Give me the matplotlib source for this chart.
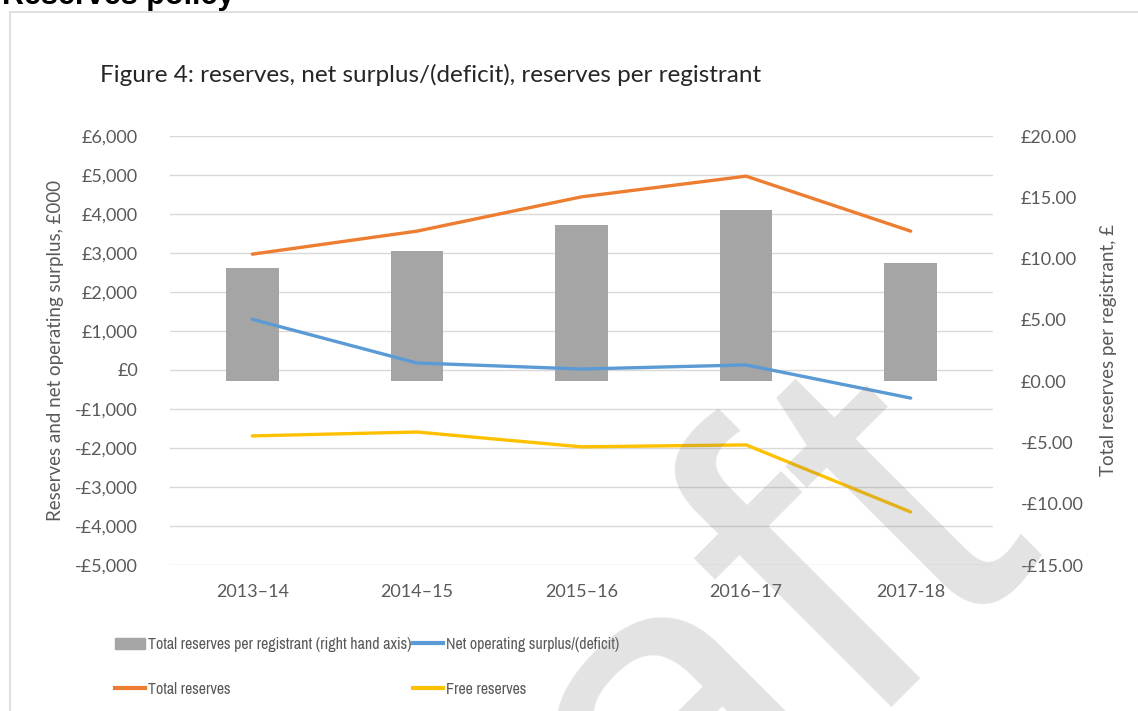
import numpy as np
import matplotlib
matplotlib.use("Agg")
import matplotlib.pyplot as plt
from matplotlib.patches import Rectangle, Patch
from matplotlib.lines import Line2D
from matplotlib.ticker import FuncFormatter

# data
years = ["2013\u201314", "2014\u201315", "2015\u201316", "2016\u201317", "2017-18"]
per_registrant = [9.2, 10.6, 12.7, 13.95, 9.6]       # right axis, £
total_reserves = [2970, 3560, 4440, 4970, 3560]       # left axis, £000
net_surplus = [1300, 180, 25, 130, -720]
free_reserves = [-1690, -1590, -1970, -1920, -3640]

GRAY_TXT = "#595959"
FONT = ["Lato", "DejaVu Sans"]
plt.rcParams["font.family"] = FONT

fig = plt.figure(figsize=(11.38, 7.11), dpi=100)
W, H = 1138, 711

# page heading, cut at the top
fig.text(0.002, 1 - 4 / H, "Reserves policy", fontsize=22, fontweight="bold",
         family=["Liberation Sans", "DejaVu Sans"], va="baseline", ha="left")

# chart frame
fig.patches.append(Rectangle((10 / W, -0.1), 1.2, 1 - 12 / H + 0.1, transform=fig.transFigure,
                             fill=False, edgecolor="#d9d9d9", linewidth=1.2))

fig.text(100 / W, 1 - 75 / H, "Figure 4: reserves, net surplus/(deficit), reserves per registrant",
         fontsize=17.5, color="#262626", va="center", ha="left")

ax = fig.add_axes([170 / W, 1 - 565 / H, (993 - 170) / W, (565 - 136) / H])
ax2 = ax.twinx()

x = np.arange(len(years))
ax2.bar(x, per_registrant, width=0.32, color="#a5a5a5", zorder=2)
ax.set_zorder(ax2.get_zorder() + 1)
ax.patch.set_visible(False)

ax.plot(x, total_reserves, color="#ed7d31", lw=2.4, solid_capstyle="round", zorder=3)
ax.plot(x, net_surplus, color="#5b9bd5", lw=2.4, solid_capstyle="round", zorder=3)
ax.plot(x, free_reserves, color="#ffc000", lw=2.4, solid_capstyle="round", zorder=3)

ax.set_xlim(-0.5, 4.5)
ax.set_ylim(-5000, 6000)
ax.set_yticks(np.arange(-5000, 6001, 1000))
ax2.set_ylim(-15, 20)
ax2.set_yticks(np.arange(-15, 21, 5))

def money0(v, pos):
    s = "\u00a3{:,.0f}".format(abs(v))
    return "-" + s if v < 0 else s

def money2(v, pos):
    s = "\u00a3{:,.2f}".format(abs(v))
    return "-" + s if v < 0 else s

ax.yaxis.set_major_formatter(FuncFormatter(money0))
ax2.yaxis.set_major_formatter(FuncFormatter(money2))

# gridlines follow the left axis, drawn behind the bars
for yv in ax.get_yticks():
    ax2.plot([-0.5, 4.5], [(yv + 5000) / 11000 * 35 - 15] * 2, color="#d9d9d9", lw=1, zorder=1)

ax.set_xticks(x)
ax.set_xticklabels(years)
for a in (ax, ax2):
    for s in a.spines.values():
        s.set_visible(False)
    a.tick_params(length=0, labelsize=13, labelcolor=GRAY_TXT)
ax.tick_params(axis="y", pad=23)
ax2.tick_params(axis="y", pad=20)
ax.tick_params(axis="x", pad=14)

ax.set_ylabel("Reserves and net operating surplus, \u00a3000", fontsize=13.5, color=GRAY_TXT, labelpad=8)
ax2.set_ylabel("Total reserves per registrant, \u00a3", fontsize=13.5, color=GRAY_TXT, labelpad=12)

handles = [Patch(color="#a5a5a5"),
           Line2D([], [], color="#ed7d31", lw=3),
           Line2D([], [], color="#5b9bd5", lw=3),
           Line2D([], [], color="#ffc000", lw=3)]
labels = ["Total reserves per registrant (right hand axis)", "Total reserves",
          "Net operating surplus/(deficit)", "Free reserves"]
fig.legend(handles, labels, ncol=2, loc="upper left", bbox_to_anchor=(107 / W, 1 - 629 / H),
           frameon=False, borderpad=0, handlelength=1.9, handletextpad=0.15, columnspacing=0.1,
           labelspacing=1.85, prop={"family": ["Archivo Narrow", "Lato", "DejaVu Sans"], "size": 11.5},
           labelcolor=GRAY_TXT)

# draft watermark
fig.text(1035 / W, 1 - 525 / H, "Draft", fontsize=335, color="#808080", alpha=0.22,
         rotation=45, rotation_mode="anchor", ha="right", va="baseline",
         family=["Liberation Sans", "DejaVu Sans"], zorder=10)

fig.savefig("out.png", dpi=100)
